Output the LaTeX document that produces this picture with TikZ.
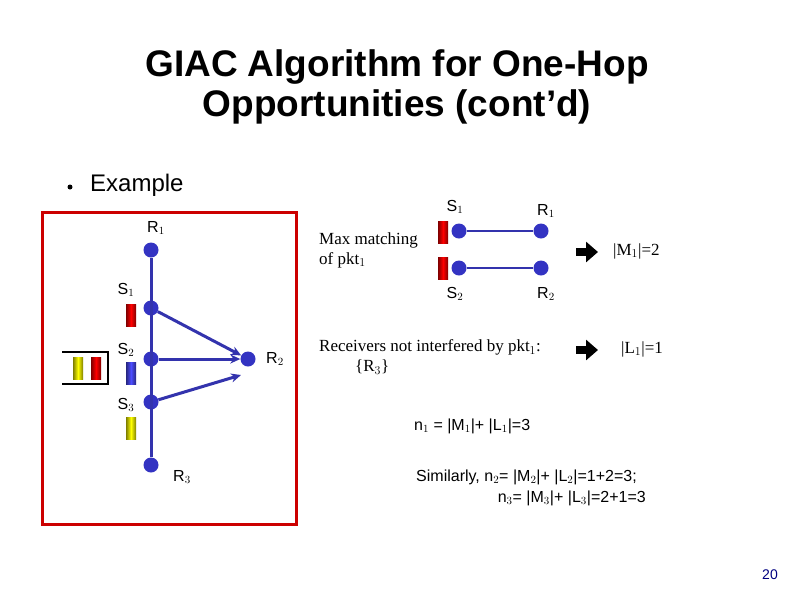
\documentclass[tikz,border=0pt]{standalone}
\usepackage{fontspec}
\setmainfont{Liberation Sans}
\newfontfamily\serifx{Liberation Serif}
\usetikzlibrary{arrows.meta}
\begin{document}
\begin{tikzpicture}[x=1pt,y=-1pt,
  dot/.style={circle,fill=blue!70!black!80,inner sep=0pt,minimum size=15pt},
  edge/.style={draw=blue!60!black!80,line width=3pt},
  arr/.style={edge,-{Stealth[length=10pt,width=9pt]}},
  lbl/.style={font=\fontsize{16}{18}\selectfont,inner sep=0pt},
  ser/.style={font=\serifx\fontsize{17}{20}\selectfont,inner sep=0pt,anchor=west,align=left},
  pkt/.style={minimum width=10pt,minimum height=22pt,inner sep=0pt,shading=axis,left color=#1!50!black,right color=#1!50!black,middle color=#1},
  barrow/.style={line width=8pt,-{Triangle[length=12pt,width=20pt]}},
  txt/.style={font=\fontsize{16}{20}\selectfont,inner sep=0pt,anchor=west}]
\useasboundingbox (0,0) rectangle (794,595);
\node[font=\bfseries\fontsize{37}{40}\selectfont,align=center] (title) at (397,87) {GIAC Algorithm for One-Hop\\Opportunities (cont’d)};
\node[circle,fill=black,inner sep=0pt,minimum size=5pt] (bul) at (70,187) {};
\node[font=\fontsize{24}{28}\selectfont,anchor=west,inner sep=0pt] (ex) at (90,185) {Example};
\draw[draw=red!80!black,line width=3pt] (42,212) rectangle (296,524);
% left graph
\node[dot] (R1) at (151,250) {};
\node[dot] (S1) at (151,308) {};
\node[dot] (S2) at (151,359) {};
\node[dot] (S3) at (151,402) {};
\node[dot] (R3) at (151,465) {};
\node[dot] (R2) at (248,359) {};
\coordinate (R2b) at (241,375);
\draw[edge] (R1) -- (R3);
\draw[arr] (S1) -- (R2);
\draw[arr] (S2) -- (R2);
\draw[arr] (S3) -- (R2b);
\node[lbl] (lR1) at (156,228) {R$_1$};
\node[lbl] (lS1) at (126,290) {S$_1$};
\node[lbl] (lS2) at (126,350) {S$_2$};
\node[lbl] (lR2) at (275,359) {R$_2$};
\node[lbl] (lS3) at (126,405) {S$_3$};
\node[lbl] (lR3) at (182,477) {R$_3$};
\node[pkt=red] (p1) at (131,315) {};
\node[pkt=blue!70!white] (p2) at (131,373) {};
\node[pkt=yellow] (p3) at (131,428) {};
\draw[line width=2.5pt] (62,352) -- (108,352) -- (108,384) -- (62,384);
\node[pkt=yellow] (q1) at (78,368) {};
\node[pkt=red] (q2) at (96,368) {};
% right matching
\node[dot] (mS1) at (459,231) {};
\node[dot] (mR1) at (541,231) {};
\node[dot] (mS2) at (459,268) {};
\node[dot] (mR2) at (541,268) {};
\draw[edge,line width=2.5pt] (mS1) -- (mR1);
\draw[edge,line width=2.5pt] (mS2) -- (mR2);
\node[pkt=red] (mp1) at (443,232) {};
\node[pkt=red] (mp2) at (443,268) {};
\node[lbl] (lmS1) at (455,207) {S$_1$};
\node[lbl] (lmR1) at (546,211) {R$_1$};
\node[lbl] (lmS2) at (455,294) {S$_2$};
\node[lbl] (lmR2) at (546,294) {R$_2$};
\node[ser] (mm) at (319,250) {Max matching\\of pkt$_1$};
\coordinate (a1s) at (576,252); \coordinate (a1e) at (598,252);
\draw[barrow] (a1s) -- (a1e);
\node[ser] (M1) at (613,251) {|M$_1$|=2};
\coordinate (a2s) at (576,350); \coordinate (a2e) at (598,350);
\node[ser] (rec) at (319,357) {Receivers not interfered by pkt$_1$:\\\hspace{36pt}\{R$_3$\}};
\draw[barrow] (a2s) -- (a2e);
\node[ser] (L1) at (621,349) {|L$_1$|=1};
\node[txt] (n1) at (414,426) {n$_1$ = |M$_1$|+ |L$_1$|=3};
\node[txt] (sim) at (416,477) {Similarly, n$_2$= |M$_2$|+ |L$_2$|=1+2=3;};
\node[txt,anchor=east] (n3) at (646,498) {n$_3$= |M$_3$|+ |L$_3$|=2+1=3};
\node[font=\fontsize{14}{16}\selectfont,text=blue!50!black,inner sep=0pt] (pg) at (770,575) {20};
\end{tikzpicture}
\end{document}
